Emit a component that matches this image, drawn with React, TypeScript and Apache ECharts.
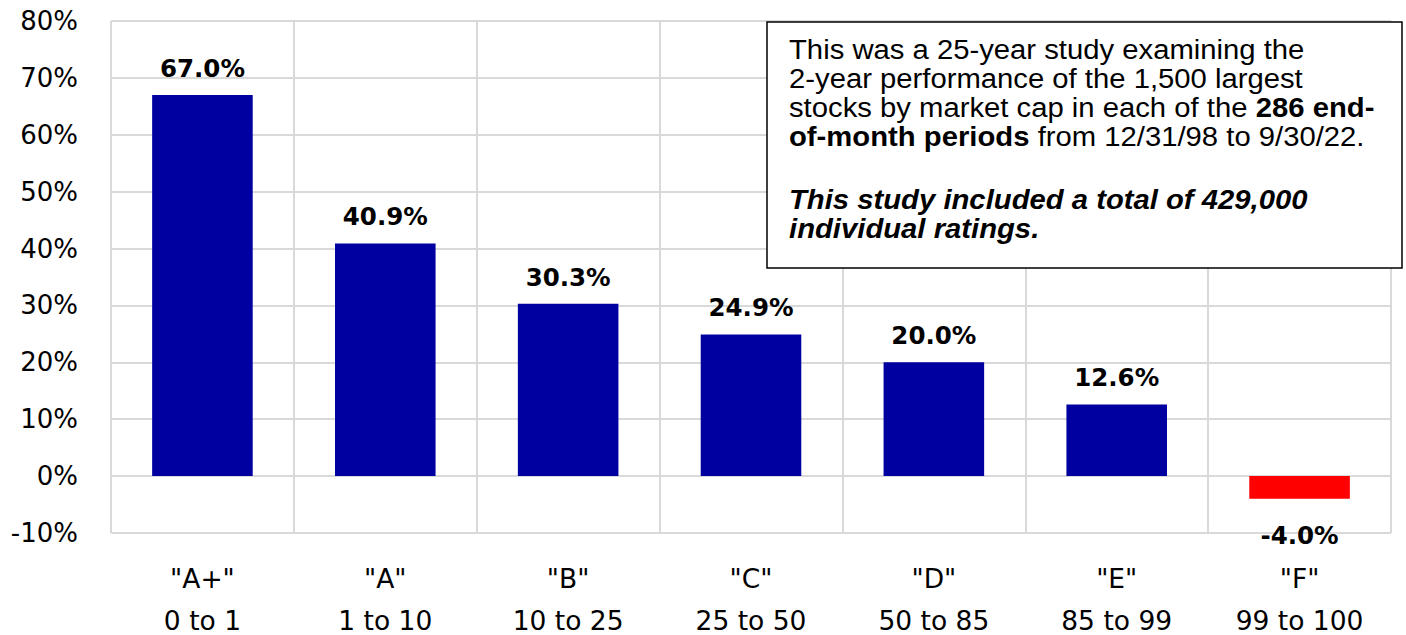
import React, { useEffect, useRef } from "react";
import * as echarts from "echarts";

const grades = ['"A+"', '"A"', '"B"', '"C"', '"D"', '"E"', '"F"'];
const ranges = ["0 to 1", "1 to 10", "10 to 25", "25 to 50", "50 to 85", "85 to 99", "99 to 100"];
const returns = [67.0, 40.9, 30.3, 24.9, 20.0, 12.6, -4.0];
const yTicks = { min: -10, max: 80, interval: 10 };

const noteLines = [
  "This was a 25-year study examining the",
  "2-year performance of the 1,500 largest",
  "stocks by market cap in each of the {b|286 end-}",
  "{b|of-month periods} from 12/31/98 to 9/30/22.",
];
const noteItalic = ["This study included a total of 429,000", "individual ratings."];

const AXIS_FONT = "DejaVu Sans";
const NOTE_FONT = "Liberation Sans";

export default function App() {
  const ref = useRef<HTMLDivElement>(null);
  useEffect(() => {
    if (!ref.current) return;
    const chart = echarts.init(ref.current, undefined, { renderer: "svg" });
    const noteX = 789;
    const lineYs = [49, 78, 107, 136];
    const italYs = [199, 228];
    const sx = 1.045;
    const fs = 28;
    const textEls: any[] = [];
    noteLines.forEach((t, i) => {
      textEls.push({
        type: "text",
        x: noteX,
        y: lineYs[i],
        scaleX: sx,
        z: 101,
        style: {
          text: t,
          fontFamily: NOTE_FONT,
          fontSize: fs,
          fill: "#000",
          verticalAlign: "middle",
          align: "left",
          rich: {
            b: { fontFamily: NOTE_FONT, fontSize: fs, fontWeight: "bold", fill: "#000" },
          },
        },
      });
    });
    noteItalic.forEach((t, i) => {
      textEls.push({
        type: "text",
        x: noteX,
        y: italYs[i],
        scaleX: sx,
        z: 101,
        style: {
          text: t,
          fontFamily: NOTE_FONT,
          fontSize: fs,
          fontWeight: "bold",
          fontStyle: "italic",
          fill: "#000",
          verticalAlign: "middle",
          align: "left",
        },
      });
    });

    chart.setOption({
      animation: false,
      backgroundColor: "#fff",
      grid: {
        left: 111,
        right: 15,
        top: 21,
        bottom: 102,
        containLabel: false,
        outerBoundsMode: "none",
      },
      xAxis: {
        type: "category",
        data: grades,
        axisLine: { show: false },
        axisTick: { show: false },
        splitLine: { show: true, interval: 0, lineStyle: { color: "#d9d9d9", width: 2 } },
        axisLabel: {
          interval: 0,
          margin: 17,
          color: "#000",
          formatter: (v: string, i: number) => "{g|" + v + "}\n{r|" + ranges[i] + "}",
          rich: {
            g: { fontFamily: AXIS_FONT, fontSize: 26.5, color: "#000", lineHeight: 56 },
            r: { fontFamily: AXIS_FONT, fontSize: 26.5, color: "#000", lineHeight: 28 },
          },
        },
      },
      yAxis: {
        type: "value",
        min: yTicks.min,
        max: yTicks.max,
        interval: yTicks.interval,
        axisLine: { show: false },
        axisTick: { show: false },
        splitLine: { show: true, lineStyle: { color: "#d9d9d9", width: 2 } },
        axisLabel: {
          formatter: "{value}%",
          margin: 33,
          fontFamily: AXIS_FONT,
          fontSize: 26,
          color: "#000",
        },
      },
      series: [
        {
          type: "bar",
          barWidth: "55%",
          data: returns.map((v) => ({
            value: v,
            itemStyle: { color: v < 0 ? "#FF0000" : "#0000A0" },
            label: {
              show: true,
              position: v < 0 ? "bottom" : "top",
              distance: v < 0 ? 24 : 14,
              formatter: (p: any) => Number(p.value).toFixed(1) + "%",
              fontFamily: AXIS_FONT,
              fontSize: 24.5,
              fontWeight: "bold",
              color: "#000",
            },
          })),
        },
      ],
      graphic: [
        {
          type: "rect",
          z: 100,
          shape: { x: 767, y: 22, width: 635, height: 246 },
          style: { fill: "#fff", stroke: "#000", lineWidth: 1.5 },
        },
        ...textEls,
      ],
    });
    return () => chart.dispose();
  }, []);
  return (
    <div
      ref={ref}
      style={{ position: "absolute", left: 0, top: 0, width: 1406, height: 635 }}
    />
  );
}
